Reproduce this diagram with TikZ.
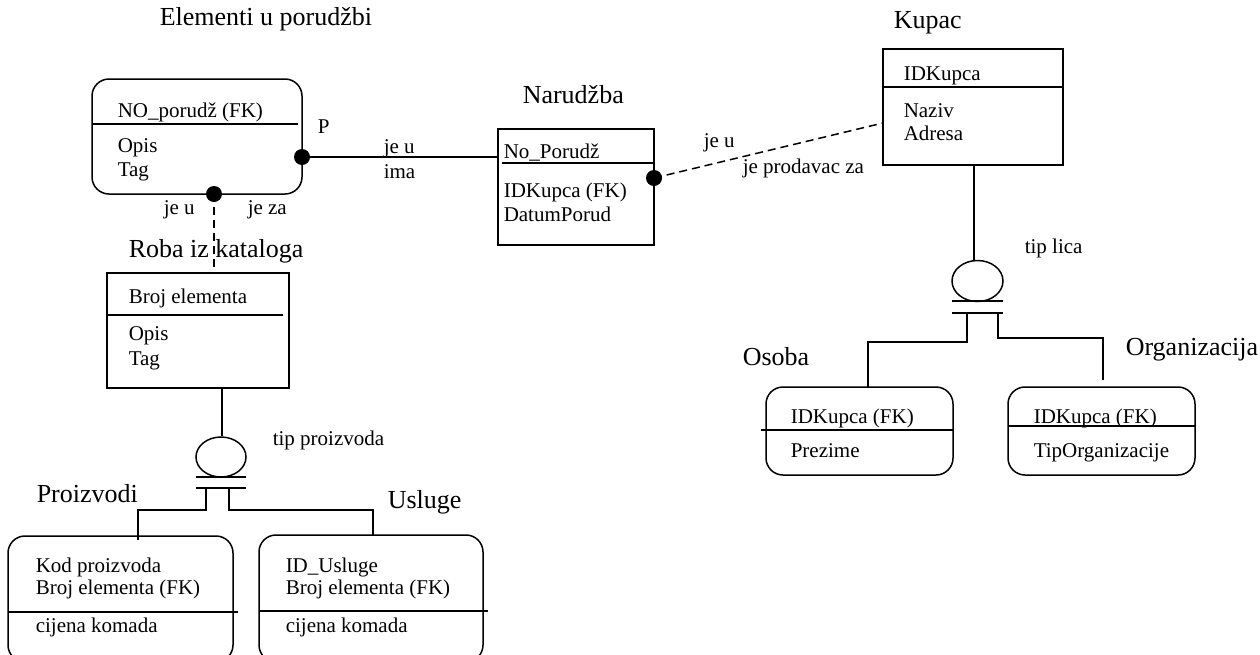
\documentclass[tikz,border=0pt]{standalone}
\usepackage{fontspec}
\setmainfont{Liberation Serif}
\usetikzlibrary{shapes.geometric}
\begin{document}
\begin{tikzpicture}[x=1pt,y=-1pt,
  line width=1.5pt,
  entity/.style={draw, inner sep=0pt, outer sep=0pt, anchor=north west},
  dep/.style={entity, rounded corners=17pt},
  attr/.style={anchor=base west, inner sep=0pt, font=\fontsize{21}{24}\selectfont},
  ttl/.style={anchor=base west, inner sep=0pt, font=\fontsize{26}{30}\selectfont},
  dot/.style={circle, fill=black, inner sep=0pt, minimum size=16pt},
  rel/.style={line width=1.5pt},
  optrel/.style={line width=1.5pt, dash pattern=on 8pt off 5pt},
  subcirc/.style={ellipse, draw, inner sep=0pt, minimum width=51pt, minimum height=41pt}
]
\clip (0,0) rectangle (1260,654);

% ---------- entity boxes ----------
\node[dep, minimum width=210pt, minimum height=115pt] (elem) at (92,79) {};
\node[entity, minimum width=156pt, minimum height=116pt] (nar) at (498,129) {};
\node[entity, minimum width=180pt, minimum height=116pt] (kup) at (883,49) {};
\node[entity, minimum width=182pt, minimum height=115pt] (roba) at (107,273) {};
\node[dep, minimum width=187pt, minimum height=88pt] (osoba) at (766,387) {};
\node[dep, minimum width=187pt, minimum height=88pt] (org) at (1008,387) {};
\node[dep, minimum width=225pt, minimum height=126pt] (proiz) at (8,536) {};
\node[dep, minimum width=224pt, minimum height=127pt] (usl) at (259,535) {};

% key / non-key dividers
\draw (92,124) -- (298,124);
\draw (502,163) -- (654,163);
\draw (883,87) -- (1063,87);
\draw (107,315) -- (283,315);
\draw (761,430) -- (953,430);
\draw (1008,426) -- (1195,426);
\draw (8,612) -- (238,612);
\draw (259,611) -- (488,611);

% ---------- titles ----------
\node[ttl] (tElem) at (159,25) {Elementi u porudžbi};
\node[ttl] (tNar) at (522,103) {Narudžba};
\node[ttl] (tKup) at (893,28) {Kupac};
\node[ttl] (tRoba) at (128,257) {Roba iz kataloga};
\node[ttl] (tOsoba) at (742,365) {Osoba};
\node[ttl] (tOrg) at (1125,355) {Organizacija};
\node[ttl] (tProiz) at (36,502) {Proizvodi};
\node[ttl] (tUsl) at (387,508) {Usluge};

% ---------- attributes ----------
\node[attr] (a1) at (117,117) {NO\_porudž (FK)};
\node[attr] (a2) at (117,152) {Opis};
\node[attr] (a3) at (117,176) {Tag};

\node[attr] (b1) at (503,158) {No\_Porudž};
\node[attr] (b2) at (503,197) {IDKupca (FK)};
\node[attr] (b3) at (503,221) {DatumPorud};

\node[attr] (c1) at (903,80) {IDKupca};
\node[attr] (c2) at (903,117) {Naziv};
\node[attr] (c3) at (903,140) {Adresa};

\node[attr] (d1) at (128,303) {Broj elementa};
\node[attr] (d2) at (128,340) {Opis};
\node[attr] (d3) at (128,365) {Tag};

\node[attr] (e1) at (790,423) {IDKupca (FK)};
\node[attr] (e2) at (790,457) {Prezime};

\node[attr] (f1) at (1033,423) {IDKupca (FK)};
\node[attr] (f2) at (1033,457) {TipOrganizacije};

\node[attr] (g1) at (35,572) {Kod proizvoda};
\node[attr] (g2) at (35,594) {Broj elementa (FK)};
\node[attr] (g3) at (35,632) {cijena komada};

\node[attr] (h1) at (285,572) {ID\_Usluge};
\node[attr] (h2) at (285,594) {Broj elementa (FK)};
\node[attr] (h3) at (285,632) {cijena komada};

% ---------- relationship ends ----------
\node[dot] (dElemR) at (302,157) {};
\node[dot] (dElemB) at (214,194) {};
\node[dot] (dNar) at (654,178) {};
\coordinate (narIn) at (498,157);
\coordinate (robaIn) at (214,273);
\coordinate (kupIn) at (883,123);

\draw[rel] (dElemR.center) -- (narIn);
\draw[optrel] (dElemB.center) -- (robaIn);
\draw[optrel] (dNar.center) -- (kupIn);

% relationship labels
\node[attr] (lP) at (317,133) {P};
\node[attr] (lJeU1) at (383,153) {je u};
\node[attr] (lIma) at (383,178) {ima};
\node[attr] (lJeU2) at (163,214) {je u};
\node[attr] (lJeZa) at (247,214) {je za};
\node[attr] (lJeU3) at (703,147) {je u};
\node[attr] (lProd) at (742,173) {je prodavac za};

% ---------- category: Kupac ----------
\node[subcirc] (catK) at (977.5,281) {};
\coordinate (kupOut) at (974,165);
\draw[rel] (kupOut) -- (kupOut |- catK.north);
\draw (952,301) -- (1003,301);
\draw (952,313) -- (1003,313);
\coordinate (osobaIn) at (868,387);
\coordinate (orgIn) at (1103,380);
\draw[rel] (967,313) -- (967,342) -- (868,342) -- (osobaIn);
\draw[rel] (998,313) -- (998,338) -- (1103,338) -- (orgIn);
\node[attr] (lTipL) at (1024,253) {tip lica};

% ---------- category: Roba iz kataloga ----------
\node[subcirc, minimum width=50pt, minimum height=40pt] (catR) at (221,457) {};
\coordinate (robaOut) at (222,388);
\draw[rel] (robaOut) -- (robaOut |- catR.north);
\draw (196,477) -- (246,477);
\draw (196,488) -- (246,488);
\coordinate (proizIn) at (138,540);
\coordinate (uslIn) at (373,535);
\draw[rel] (206,488) -- (206,510) -- (138,510) -- (proizIn);
\draw[rel] (229,488) -- (229,510) -- (373,510) -- (uslIn);
\node[attr] (lTipP) at (272,445) {tip proizvoda};
\end{tikzpicture}
\end{document}
